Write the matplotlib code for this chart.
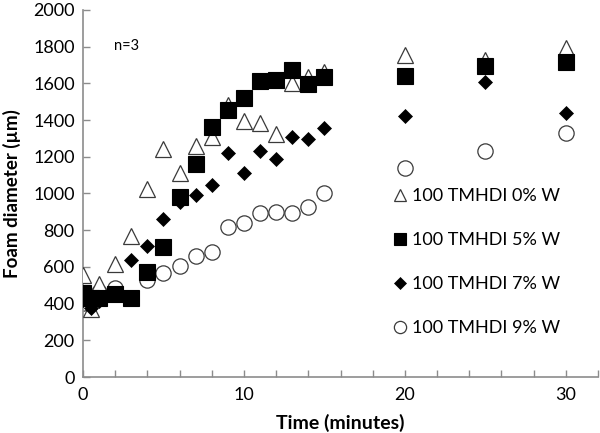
import matplotlib
matplotlib.use("Agg")
import matplotlib.pyplot as plt
from matplotlib.ticker import MultipleLocator

plt.rcParams['font.family'] = ['Lato', 'DejaVu Sans']

time = [0, 0.5, 1, 2, 3, 4, 5, 6, 7, 8, 9, 10, 11, 12, 13, 14, 15, 20, 25, 30]
w0 = [555, 368, 505, 615, 770, 1025, 1245, 1110, 1260, 1310, 1480, 1395, 1385, 1322, 1600, 1635, 1660, 1757, 1730, 1790]
w5 = [460, 430, 430, 450, 432, 572, 708, 980, 1162, 1362, 1455, 1518, 1611, 1616, 1672, 1594, 1632, 1638, 1697, 1714]
w7 = [420, 378, 415, 455, 635, 715, 860, 952, 990, 1045, 1222, 1113, 1233, 1190, 1308, 1297, 1358, 1422, 1605, 1438]
w9 = [405, 425, 462, 486, 432, 530, 568, 606, 659, 681, 816, 838, 892, 897, 892, 924, 1005, 1141, 1232, 1330]

labels = ["100 TMHDI 0% W", "100 TMHDI 5% W", "100 TMHDI 7% W", "100 TMHDI 9% W"]

fig = plt.figure(figsize=(6, 4.33), dpi=100)
ax = fig.add_axes([0.1383, 0.1293, 0.8584, 0.8477])

edge = '#3a3a3a'
ax.plot(time, w0, linestyle='none', marker='^', ms=11.5, mfc='white', mec=edge, mew=0.9, label=labels[0], zorder=3)
ax.plot(time, w5, linestyle='none', marker='s', ms=11, mfc='black', mec='black', mew=0.8, label=labels[1], zorder=4)
ax.plot(time, w7, linestyle='none', marker='D', ms=7.2, mfc='black', mec='black', mew=0.5, label=labels[2], zorder=5)
ax.plot(time, w9, linestyle='none', marker='o', ms=11, mfc='white', mec=edge, mew=0.9, label=labels[3], zorder=2)

ax.set_xlim(0, 32)
ax.set_ylim(0, 2000)
ax.xaxis.set_major_locator(MultipleLocator(10))
ax.xaxis.set_minor_locator(MultipleLocator(2))
ax.yaxis.set_major_locator(MultipleLocator(200))

axcol = '#8c8c8c'
for s in ['top', 'right']:
    ax.spines[s].set_visible(False)
for s in ['left', 'bottom']:
    ax.spines[s].set_color(axcol)
    ax.spines[s].set_linewidth(1.2)
ax.tick_params(which='both', direction='in', length=5, width=1.0, color=axcol, labelsize=13)
ax.tick_params(axis='y', pad=6)
ax.tick_params(axis='x', pad=7)

ax.set_xlabel('Time (minutes)', fontsize=14, fontweight='bold', labelpad=8)
ax.set_ylabel('Foam diameter (µm)', fontsize=13.5, fontweight='bold', labelpad=8.5)

ax.text(1.9, 1805, 'n=3', fontsize=10.5, va='center', ha='left')

leg = ax.legend(loc='upper left', bbox_to_anchor=(0.585, 0.535), frameon=False, fontsize=13,
                handletextpad=0.25, labelspacing=1.55, handlelength=0.9, borderaxespad=0,
                markerscale=0.8)

fig.savefig('out.png', dpi=100)
